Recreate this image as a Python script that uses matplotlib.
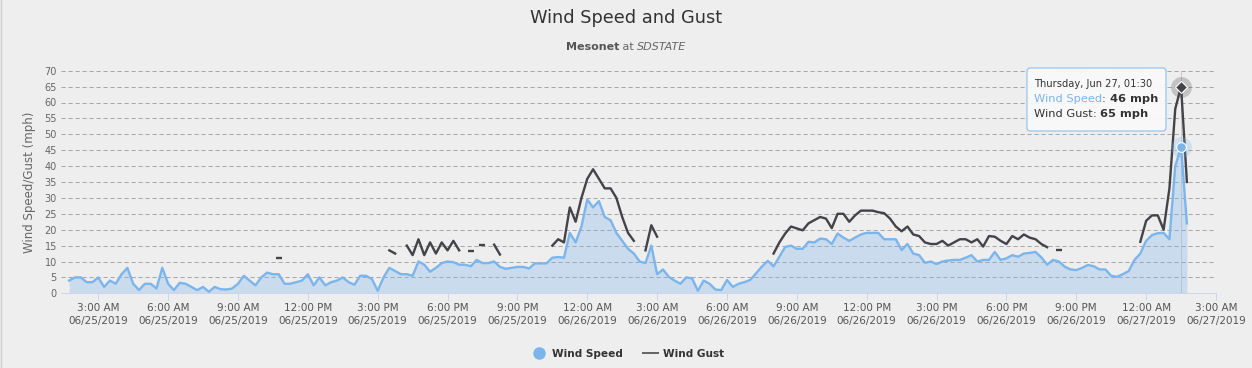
import numpy as np
import pandas as pd
import matplotlib
matplotlib.use("Agg")
import matplotlib.pyplot as plt
from matplotlib.lines import Line2D
from matplotlib.patches import FancyBboxPatch
from matplotlib.transforms import IdentityTransform

nan = np.nan

# ---------------- data ----------------
start_time = "2019-06-25 01:45"
step = "15min"

wind_speed = [
    4, 5, 5, 3.5, 3.5, 5, 2, 4, 3, 6,
    8, 3, 1, 3, 3, 1.5, 8, 3, 1, 3.3,
    3, 2, 1, 2, 0.5, 2, 1.3, 1.2, 1.5, 3,
    5.5, 4, 2.5, 5, 6.5, 6, 6, 3, 3, 3.5,
    4, 6, 2.5, 5, 2.5, 3.5, 4, 5, 3.5, 2.7,
    5.5, 5.5, 4.5, 0.8, 5, 8, 7, 6, 6, 5.5,
    10, 9, 6.8, 8, 9.5, 10, 9.8, 9, 9, 8.5,
    10.5, 9.5, 9.5, 10, 8.3, 7.7, 8, 8.3, 8.3, 7.8,
    9.4, 9.4, 9.4, 11.2, 11.4, 11.2, 19, 16, 21, 29.5,
    27, 29, 24, 23, 19, 16.5, 14, 12.5, 10, 9.5,
    15, 6, 7.5, 5.2, 4, 3, 5, 4.7, 0.8, 4,
    3, 1.2, 1, 4.2, 2, 3, 3.5, 4.2, 6.3, 8.4,
    10.2, 8.5, 11.5, 14.6, 15, 14, 14, 16.2, 16, 17.2,
    17, 15.5, 18.8, 17.5, 16.5, 17.5, 18.5, 19, 19, 19,
    17, 17, 17, 13.6, 15.5, 12.5, 12, 9.6, 10, 9.2,
    10, 10.3, 10.5, 10.5, 11.2, 12, 10, 10.5, 10.5, 13,
    10.5, 11, 12, 11.5, 12.5, 12.7, 13, 11.3, 9, 10.5,
    10, 8.4, 7.5, 7.3, 8, 8.9, 8.5, 7.5, 7.5, 5.5,
    5.2, 6, 7, 10.5, 12.5, 16.5, 18.3, 18.9, 19, 17,
    40, 46, 22,
]

wind_gust = [
    nan, nan, nan, nan, nan, nan, nan, nan, nan, nan,
    nan, nan, nan, nan, nan, nan, nan, nan, nan, nan,
    nan, nan, nan, nan, nan, nan, nan, nan, nan, nan,
    nan, nan, nan, nan, nan, nan, 11.2, nan, nan, nan,
    nan, nan, nan, nan, nan, nan, nan, nan, nan, nan,
    nan, nan, nan, nan, nan, 13.5, 12.5, nan, 15, 12,
    17, 12, 16, 12.5, 16, 13.5, 16.5, 13.5, nan, 13.4,
    nan, 15.3, nan, 15.3, 12.2, nan, nan, nan, nan, nan,
    nan, nan, nan, 15, 17, 16, 27, 22.5, 30, 36,
    39, 36, 33, 33, 30, 24, 19, 16.5, nan, 13.5,
    21.4, 17.8, nan, nan, nan, nan, nan, nan, nan, nan,
    nan, nan, nan, nan, nan, nan, nan, nan, nan, nan,
    nan, 12.5, 16, 18.8, 21, 20.4, 19.8, 22, 23, 24,
    23.5, 20.5, 25, 25, 22.5, 24.5, 26, 26, 26, 25.5,
    25.2, 23.5, 21, 19.5, 21, 18.5, 18, 16, 15.5, 15.5,
    16.5, 15, 16, 17, 17, 16, 17, 14.7, 18, 17.8,
    16.5, 15.5, 18, 17, 18.5, 17.5, 17, 15.5, 14.5, nan,
    13.5, nan, nan, nan, nan, nan, nan, nan, nan, nan,
    nan, nan, nan, nan, 16.2, 22.8, 24.5, 24.5, 20, 33,
    58, 65, 35,
]

y_ticks = [0, 5, 10, 15, 20, 25, 30, 35, 40, 45, 50, 55, 60, 65, 70]
x_start = "2019-06-25 01:24"
x_end = "2019-06-27 03:00"
x_tick_start = "2019-06-25 03:00"
x_tick_step = "3h"
hover_time = "2019-06-27 01:30"
hover_label = "Thursday, Jun 27, 01:30"

title = "Wind Speed and Gust"
subtitle_parts = ["Mesonet", " at ", "SDSTATE"]
y_label = "Wind Speed/Gust (mph)"
series_names = ["Wind Speed", "Wind Gust"]

# ---------------- style ----------------
W, H = 1252, 368
BG = "#eeeeee"
SPEED_C = "#7cb5ec"
GUST_C = "#434348"
TXT = "#333333"
AX_TXT = "#666666"
PX = 0.72  # one pixel in points
LW = 1.7

fig = plt.figure(figsize=(W / 100, H / 100), dpi=100, facecolor=BG)
ax_left, ax_right, ax_top, ax_bottom = 61, 1216, 70.7, 293.3
ax = fig.add_axes([ax_left / W, 1 - ax_bottom / H, (ax_right - ax_left) / W,
                   (ax_bottom - ax_top) / H])
ax.set_facecolor(BG)

times = pd.date_range(start_time, periods=len(wind_speed), freq=step)
ws = np.array(wind_speed, dtype=float)
wg = np.array(wind_gust, dtype=float)

ax.fill_between(times, 0, ws, color=SPEED_C, alpha=0.32, lw=0, zorder=2)
ax.plot(times, ws, color=SPEED_C, lw=LW, zorder=3, solid_joinstyle="round")
ax.plot(times, wg, color=GUST_C, lw=LW, zorder=4, solid_joinstyle="round")

fin = np.isfinite(wg)
prev_f = np.concatenate([[False], fin[:-1]])
next_f = np.concatenate([fin[1:], [False]])
iso = fin & ~prev_f & ~next_f
ax.plot(times[iso], wg[iso], ls="none", marker="_", ms=5, mew=LW,
        color=GUST_C, zorder=4)

# axes styling
ax.set_ylim(0, 70)
ax.set_xlim(pd.Timestamp(x_start), pd.Timestamp(x_end))
ax.set_yticks(y_ticks)
ax.set_axisbelow(True)
ax.yaxis.grid(True, color="#a8a8a8", lw=PX, ls=(0, (4.2, 2.8)))
ax.xaxis.grid(False)
for s in ["left", "right", "top"]:
    ax.spines[s].set_visible(False)
ax.spines["bottom"].set_color("#ccd6eb")
ax.spines["bottom"].set_linewidth(PX)
ax.tick_params(axis="y", length=0, pad=3, labelsize=7, labelcolor=AX_TXT)

xt = pd.date_range(x_tick_start, x_end, freq=x_tick_step)
labels = [f"{t.hour % 12 or 12}:{t.minute:02d} {'AM' if t.hour < 12 else 'PM'}\n{t:%m/%d/%Y}"
          for t in xt]
ax.set_xticks(xt)
ax.set_xticklabels(labels, linespacing=1.35)
ax.tick_params(axis="x", length=5, width=PX, color="#ccd6eb", pad=2,
               labelsize=7.5, labelcolor="#555555")

# crosshair + hover markers
ht = pd.Timestamp(hover_time)
hi = int(np.where(times == ht)[0][0])
ax.axvline(ht, color="#cccccc", lw=PX, zorder=1)
ax.plot([ht], [wg[hi]], marker="o", ms=15, color=GUST_C, alpha=0.25,
        ls="none", zorder=5, clip_on=False, mew=0)
ax.plot([ht], [wg[hi]], marker="D", ms=6, color=GUST_C, mec="white",
        mew=0.8, ls="none", zorder=6, clip_on=False)
ax.plot([ht], [ws[hi]], marker="o", ms=15, color=SPEED_C, alpha=0.25,
        ls="none", zorder=5, clip_on=False, mew=0)
ax.plot([ht], [ws[hi]], marker="o", ms=7, color=SPEED_C, mec="white",
        mew=0.8, ls="none", zorder=6, clip_on=False)

# titles
fig.text(626 / W, 1 - 18 / H, title, ha="center", va="center",
         fontsize=12.8, color=TXT)

renderer = fig.canvas.get_renderer()


def seq_text(x_px, y_px, parts, center=False):
    objs = []
    widths = []
    for s, kw in parts:
        t = fig.text(0, 1 - y_px / H, s, ha="left", va="center", **kw)
        objs.append(t)
        widths.append(t.get_window_extent(renderer).width)
    total = sum(widths)
    x = x_px - total / 2 if center else x_px
    for t, w in zip(objs, widths):
        t.set_x(x / W)
        x += w
    return objs


seq_text(626, 47, [
    (subtitle_parts[0], dict(fontsize=8, fontweight="bold", color="#555555")),
    (subtitle_parts[1], dict(fontsize=8, color=AX_TXT)),
    (subtitle_parts[2], dict(fontsize=8, style="italic", color=AX_TXT)),
], center=True)

fig.text(30 / W, 1 - 182 / H, y_label, rotation=90, ha="center", va="center",
         fontsize=8.5, color=AX_TXT)

# tooltip
box = FancyBboxPatch((1027, H - 131), 139, 63,
                     boxstyle="round,pad=0,rounding_size=3",
                     transform=IdentityTransform(), facecolor="#f9f9f9",
                     edgecolor=SPEED_C, lw=PX, alpha=0.95, zorder=10)
fig.add_artist(box)
fig.text(1034 / W, 1 - 84 / H, hover_label, ha="left", va="center",
         fontsize=7.1, color=TXT, zorder=11)
for tt in seq_text(1034, 99, [
    (series_names[0], dict(fontsize=8.2, color=SPEED_C)),
    (": ", dict(fontsize=8.2, color=TXT)),
    (f"{ws[hi]:.0f} mph", dict(fontsize=8.2, fontweight="bold", color=TXT)),
]):
    tt.set_zorder(11)
for tt in seq_text(1034, 114, [
    (series_names[1], dict(fontsize=8.2, color=TXT)),
    (": ", dict(fontsize=8.2, color=TXT)),
    (f"{wg[hi]:.0f} mph", dict(fontsize=8.2, fontweight="bold", color=TXT)),
]):
    tt.set_zorder(11)

# legend
handles = [
    Line2D([], [], marker="o", ms=8, ls="none", color=SPEED_C),
    Line2D([], [], color="#666666", lw=2 * PX),
]
fig.legend(handles, series_names, loc="center", bbox_to_anchor=(628 / W, 14 / H),
           ncol=2, frameon=False, handlelength=1.4, handletextpad=0.5,
           columnspacing=1.9, prop=dict(size=7.6, weight="bold"),
           labelcolor=TXT)

# page edge line
fig.add_artist(Line2D([0.5, 0.5], [0, H], color="#cfcfcf", lw=1,
                      transform=IdentityTransform()))

fig.savefig("out.png", dpi=100, facecolor=BG)
